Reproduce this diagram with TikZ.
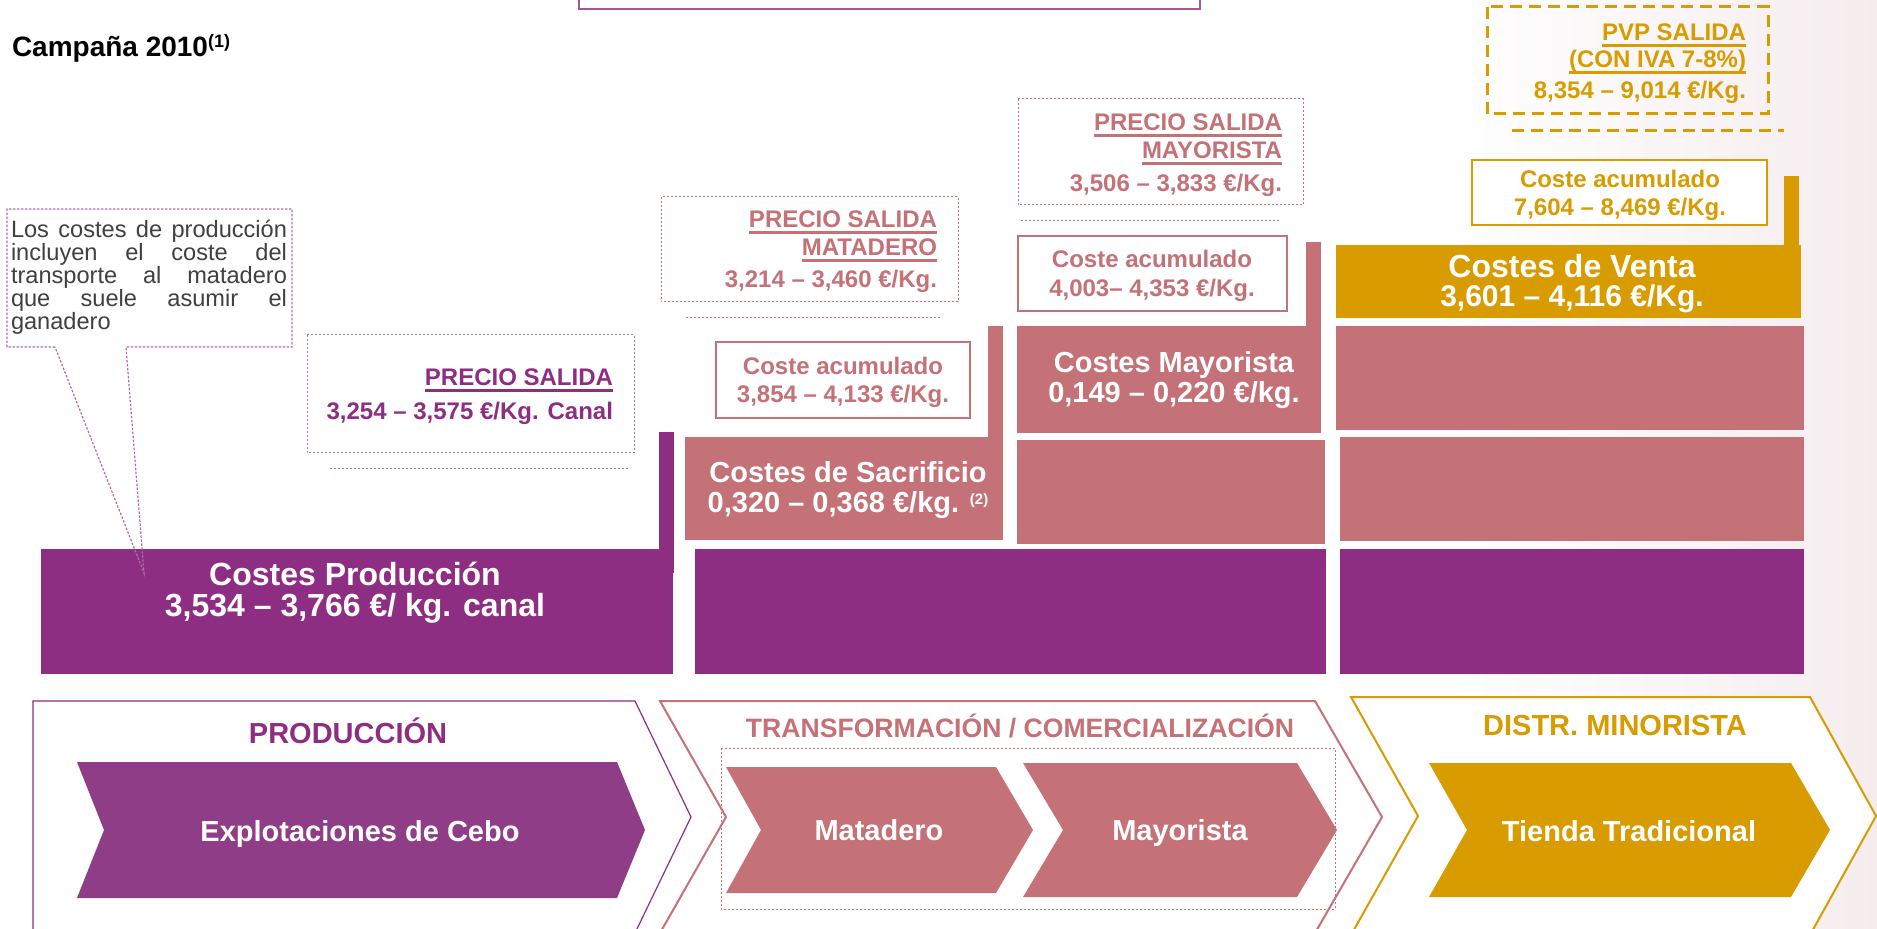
\documentclass[tikz,border=0pt]{standalone}
\usepackage{fontspec}
\setmainfont{Liberation Sans}
\definecolor{purp}{HTML}{8E2E83}
\definecolor{purpl}{HTML}{8E3D86}
\definecolor{rosa}{HTML}{C47177}
\definecolor{oro}{HTML}{D89B00}
\definecolor{gtext}{HTML}{404040}
\definecolor{bgtint}{HTML}{F5ECEE}
\newcommand\fsz[1]{\fontsize{#1}{#1}\selectfont}
\newcommand\myul[1]{\setbox0\hbox{#1}\rlap{\rule[-2.8pt]{\wd0}{1.2pt}}\box0}
\tikzset{
  dotbox/.style={line width=0.5pt, dash pattern=on 1pt off 1pt},
  acum/.style={line width=1pt, fill=white},
  lbl/.style={font=\bfseries\fsz{12}},
  big/.style={font=\bfseries\fsz{14.5}, text=white},
  bigger/.style={font=\bfseries\fsz{16}, text=white},
  head/.style={font=\bfseries\fsz{14.5}},
}
\begin{document}
\begin{tikzpicture}[x=0.5pt, y=-0.5pt, every node/.style={inner sep=0pt, outer sep=0pt}]
\useasboundingbox (0,0) rectangle (1877,929);
\fill[white] (0,0) rectangle (1877,929);
\shade[left color=white, right color=bgtint] (1450,0) rectangle (1877,929);

% top box
\draw[purp!80, line width=1pt, fill=white] (579,-10) rectangle (1200,9);

% title
\node[anchor=base west, font=\bfseries\fsz{14}] (title) at (12,57) {Campaña 2010\raisebox{4.6pt}{\fsz{9}(1)}};

% ---------- production column ----------
\node[anchor=base east, lbl, text=purp] (ps1) at (613,386) {\myul{PRECIO SALIDA}};
\node[anchor=base east, lbl, text=purp] (ps2) at (613,420) {3,254 – 3,575 €/Kg. Canal};
\draw[purp!70, dotbox] (307,335) rectangle (634,453);
\draw[purp!70, dotbox] (330,469) -- (628,469);

\fill[purp] (659,432) rectangle (674,573);
\fill[purp] (41,549) rectangle (673,674);
\node[anchor=base, bigger] (cp1) at (355,586) {Costes Producción};
\node[anchor=base, bigger] (cp2) at (355,617) {3,534 – 3,766 €/ kg. canal};

% callout
\draw[purp!70, line width=0.6pt, dash pattern=on 1.2pt off 0.8pt] (55,347) -- (7,347) -- (7,209) -- (292,209) -- (292,347) -- (126,347) -- (144,573) -- cycle;
\begin{scope}[every node/.append style={anchor=base west, font=\fsz{11.8}, text=gtext}]
\node (co1) at (11,238) {\makebox[138pt][s]{Los costes de producción}};
\node (co2) at (11,261) {\makebox[138pt][s]{incluyen el coste del}};
\node (co3) at (11,284) {\makebox[138pt][s]{transporte al matadero}};
\node (co4) at (11,307) {\makebox[138pt][s]{que suele asumir el}};
\node (co5) at (11,330) {ganadero};
\end{scope}

% ---------- matadero column ----------
\fill[purp] (695,549) rectangle (1326,674);
\fill[rosa] (685,437) rectangle (1003,540);
\fill[rosa] (988,326) rectangle (1003,437);
\node[anchor=base, big] (cs1) at (848,483) {Costes de Sacrificio};
\node[anchor=base, big] (cs2) at (848,513) {0,320 – 0,368 €/kg. \raisebox{4pt}{\fsz{7.5}(2)}};

\draw[rosa, acum] (716,342) rectangle (970,418);
\node[anchor=base, lbl, text=rosa] (ca1) at (843,375) {Coste acumulado};
\node[anchor=base, lbl, text=rosa] (ca2) at (843,403) {3,854 – 4,133 €/Kg.};

\draw[rosa, dotbox] (661,197) rectangle (958,302);
\node[anchor=base east, lbl, text=rosa] (pm1) at (937,228) {\myul{PRECIO SALIDA}};
\node[anchor=base east, lbl, text=rosa] (pm2) at (937,256) {\myul{MATADERO}};
\node[anchor=base east, lbl, text=rosa] (pm3) at (937,288) {3,214 – 3,460 €/Kg.};
\draw[rosa, dotbox] (686,318) -- (941,318);

% ---------- mayorista column ----------
\fill[rosa] (1017,326) rectangle (1321,433);
\fill[rosa] (1306,242) rectangle (1321,326);
\fill[rosa] (1017,440) rectangle (1325,544);
\node[anchor=base, big] (cm1) at (1174,373) {Costes Mayorista};
\node[anchor=base, big] (cm2) at (1174,403) {0,149 – 0,220 €/kg.};

\draw[rosa, acum] (1018,236) rectangle (1287,311);
\node[anchor=base, lbl, text=rosa] (cb1) at (1152,268) {Coste acumulado};
\node[anchor=base, lbl, text=rosa] (cb2) at (1152,297) {4,003– 4,353 €/Kg.};

\draw[rosa, dotbox] (1018,99) rectangle (1303,205);
\node[anchor=base east, lbl, text=rosa] (py1) at (1282,131) {\myul{PRECIO SALIDA}};
\node[anchor=base east, lbl, text=rosa] (py2) at (1282,159) {\myul{MAYORISTA}};
\node[anchor=base east, lbl, text=rosa] (py3) at (1282,192) {3,506 – 3,833 €/Kg.};
\draw[rosa, dotbox] (1021,221) -- (1279,221);

% ---------- retail column ----------
\fill[oro] (1336,245) rectangle (1801,318);
\fill[oro] (1784,176) rectangle (1799,245);
\fill[rosa] (1336,326) rectangle (1804,430);
\fill[rosa] (1340,437) rectangle (1804,541);
\fill[purp] (1340,549) rectangle (1804,674);
\node[anchor=base, font=\bfseries\fsz{16}, text=white] (cv1) at (1572,278) {Costes de Venta};
\node[anchor=base, font=\bfseries\fsz{15}, text=white] (cv2) at (1572,307) {3,601 – 4,116 €/Kg.};

\draw[oro, acum] (1472,160) rectangle (1767,225);
\node[anchor=base, lbl, text=oro] (cg1) at (1620,188) {Coste acumulado};
\node[anchor=base, lbl, text=oro] (cg2) at (1620,216) {7,604 – 8,469 €/Kg.};

\draw[oro, line width=1.5pt, dash pattern=on 6pt off 3.5pt] (1487,7) rectangle (1768,114);
\node[anchor=base east, lbl, text=oro] (pv1) at (1746,41) {\myul{PVP SALIDA}};
\node[anchor=base east, lbl, text=oro] (pv2) at (1746,68) {\myul{(CON IVA 7-8\%)}};
\node[anchor=base east, lbl, text=oro] (pv3) at (1746,99) {8,354 – 9,014 €/Kg.};
\draw[oro, line width=1.5pt, dash pattern=on 6pt off 3.5pt] (1512,131) -- (1784,131);

% ---------- bottom chevrons ----------
\draw[purp, line width=0.6pt, fill=white] (33,701) -- (635,701) -- (691,817) -- (635,933) -- (33,933) -- cycle;
\fill[purpl] (77,762) -- (617,762) -- (645,830) -- (617,898) -- (77,898) -- (104,830) -- cycle;
\node[anchor=base, head, text=purp] (h1) at (348,743) {PRODUCCIÓN};
\node[anchor=base, big] (e1) at (360,841) {Explotaciones de Cebo};

\draw[rosa, line width=1pt, fill=white] (660,701) -- (1315,701) -- (1382,817) -- (1315,933) -- (660,933) -- (726,817) -- cycle;
\draw[rosa, dotbox] (721,748) rectangle (1335,909);
\fill[rosa] (726,767) -- (996,767) -- (1033,830) -- (996,893) -- (726,893) -- (761,830) -- cycle;
\fill[rosa] (1023,763) -- (1297,763) -- (1337,830) -- (1297,897) -- (1023,897) -- (1063,830) -- cycle;
\node[anchor=base, font=\bfseries\fsz{13.3}, text=rosa] (h2) at (1020,737) {TRANSFORMACIÓN / COMERCIALIZACIÓN};
\node[anchor=base, big] (e2) at (879,840) {Matadero};
\node[anchor=base, big] (e3) at (1180,840) {Mayorista};

\draw[oro, line width=1pt, fill=white] (1351,697) -- (1810,697) -- (1876,816) -- (1810,935) -- (1351,935) -- (1418,816) -- cycle;
\fill[oro] (1429,763) -- (1791,763) -- (1830,830) -- (1791,897) -- (1429,897) -- (1467,830) -- cycle;
\node[anchor=base, head, text=oro] (h3) at (1615,735) {DISTR. MINORISTA};
\node[anchor=base, big] (e4) at (1629,841) {Tienda Tradicional};
\end{tikzpicture}
\end{document}
